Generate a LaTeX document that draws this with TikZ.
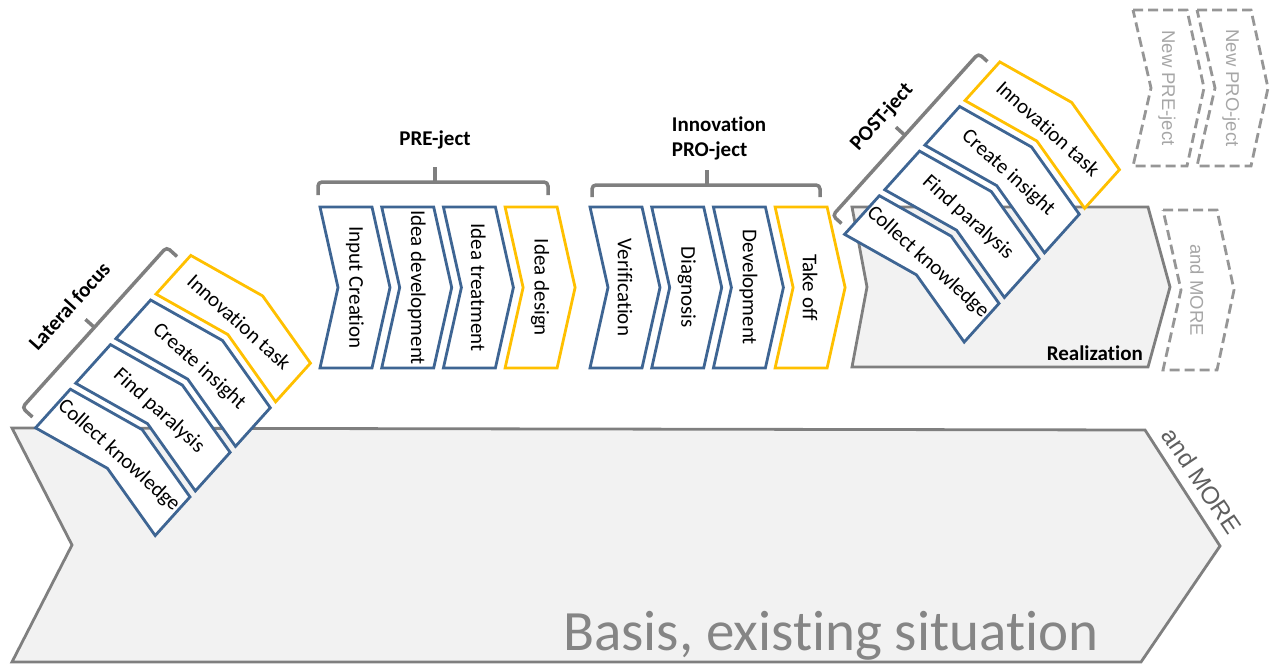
\documentclass[tikz,border=0pt]{standalone}
\usepackage{fontspec}
\setmainfont{Carlito}[Ligatures=NoCommon]
\newfontfamily\arialfont{Liberation Sans}
\definecolor{chevblue}{HTML}{3E6593}
\definecolor{chevyellow}{HTML}{FFC000}
\definecolor{brkgray}{HTML}{7F7F7F}
\definecolor{basefill}{HTML}{F2F2F2}
\definecolor{dashgray}{HTML}{969696}
\definecolor{dtxtgray}{HTML}{A6A6A6}
\definecolor{txtgray}{HTML}{858585}
\definecolor{moregray}{HTML}{5F5F5F}

\tikzset{
  chevline/.style={line width=2.8pt, line join=miter, fill=white},
  basearrow/.style={draw=brkgray, fill=basefill, line width=2.8pt, line join=miter},
  dashchev/.style={draw=dashgray, line width=2.8pt, dash pattern=on 10pt off 5pt},
  brace/.style={draw=brkgray, line width=3.5pt, rounded corners=4pt},
  lbl/.style={font=\fontsize{21}{25}\selectfont, inner sep=0pt},
  hd/.style={font=\fontsize{21}{25}\selectfont\bfseries, inner sep=0pt},
  dlbl/.style={font=\arialfont\fontsize{18.5}{22}\selectfont, text=dtxtgray, inner sep=0pt},
  pics/chev/.style 2 args={code={
    \draw[chevline, draw=#1] (0,0) -- (52,0) -- (70,80.5) -- (52,161) -- (0,161) -- (18,80.5) -- cycle;
    \node[lbl, rotate=-90] (-t) at (35,80.5) {#2};
  }},
  pics/dchev/.style 2 args={code={
    \draw[dashchev] (0,0) -- (54,0) -- (71,#1/2) -- (54,#1) -- (0,#1) -- (18,#1/2) -- cycle;
    \node[dlbl, rotate=-90] (-t) at (34,#1/2) {#2};
  }}
}

\begin{document}
\begin{tikzpicture}[x=1pt, y=-1pt]
  \useasboundingbox (0,0) rectangle (1271,666);

  % base and realization arrows
  \draw[basearrow] (12,428) -- (1145,430) -- (1220,546) -- (1141,662) -- (12,662) -- (72,545) -- cycle;
  \node[anchor=base west, inner sep=0pt, text=txtgray, font=\fontsize{57}{60}\selectfont] (basis) at (563,650) {Basis, existing situation};
  \node[font=\arialfont\fontsize{24.5}{28}\selectfont, text=moregray, rotate=-56, inner sep=0pt] (more) at (1202,481) {and MORE};

  \draw[basearrow] (852,207) -- (1148,207) -- (1170,287) -- (1148,367) -- (852,367) -- (867,287) -- cycle;
  \node[hd, anchor=base east] (real) at (1143,360) {Realization};

  % dashed follow ups
  \pic (newpre) at (1133,10) {dchev={156}{New PRE-ject}};
  \pic (newpro) at (1197,10) {dchev={156}{New PRO-ject}};
  \pic (andmore) at (1163,210) {dchev={160}{and MORE}};

  % PRE-ject
  \foreach \i/\col/\txt in {0/chevblue/Input Creation, 1/chevblue/Idea development, 2/chevblue/Idea treatment, 3/chevyellow/Idea design} {
    \pic (pre\i) at (320+61.7*\i, 207) {chev={\col}{\txt}};
  }
  \draw[brace] (318,195) -- (318,182) -- (548,182) -- (548,195);
  \draw[brace] (435,182) -- (435,167);
  \node[hd] (prehd) at (435,140) {PRE-ject};

  % PRO-ject
  \foreach \i/\col/\txt in {0/chevblue/Verification, 1/chevblue/Diagnosis, 2/chevblue/Development, 3/chevyellow/Take off} {
    \pic (pro\i) at (590+61.7*\i, 207) {chev={\col}{\txt}};
  }
  \draw[brace] (592,197) -- (592,185) -- (820,185) -- (820,197);
  \draw[brace] (707,185) -- (707,170);
  \node[hd, align=left] (prohd) at (719,138) {Innovation\\PRO-ject};

  % lateral focus
  \begin{scope}[shift={(173,395.5)}, rotate=48, transform shape]
    \foreach \i/\col/\txt in {0/chevblue/Collect knowledge, 1/chevblue/Find paralysis, 2/chevblue/Create insight, 3/chevyellow/Innovation task} {
      \pic (lat\i) at (-116+60*\i, -80.5) {chev={\col}{\txt}};
    }
    \draw[brace] (-110,-90) -- (-110,-104) -- (106,-104) -- (106,-90);
    \draw[brace] (-2,-104) -- (-2,-116);
    \node[hd] (lathd) at (-3,-137) {Lateral focus};
  \end{scope}

  % POST-ject
  \begin{scope}[shift={(982,202)}, rotate=48, transform shape]
    \foreach \i/\col/\txt in {0/chevblue/Collect knowledge, 1/chevblue/Find paralysis, 2/chevblue/Create insight, 3/chevyellow/Innovation task} {
      \pic (post\i) at (-116+60*\i, -80.5) {chev={\col}{\txt}};
    }
    \draw[brace] (-110,-90) -- (-110,-102) -- (108,-102) -- (108,-90);
    \draw[brace] (-2,-102) -- (-2,-114);
    \node[hd] (posthd) at (-4,-131) {POST-ject};
  \end{scope}
\end{tikzpicture}
\end{document}
